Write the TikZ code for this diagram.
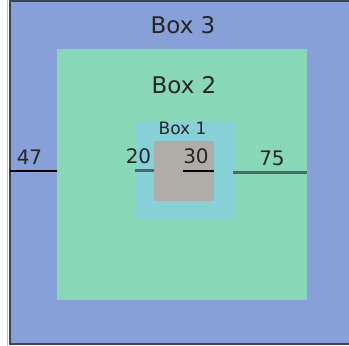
\documentclass[tikz,border=0pt]{standalone}
\usepackage{fontspec}
\setmainfont{DejaVu Sans}
\definecolor{bxblue}{HTML}{88A0D8}
\definecolor{bxgreen}{HTML}{88D8B8}
\definecolor{bxcyan}{HTML}{88D0D8}
\definecolor{bxgray}{HTML}{B0ACA8}
\definecolor{bxedge}{HTML}{3E4656}
\definecolor{bxslate}{HTML}{4A6866}
\usepackage{tikz}
\usetikzlibrary{positioning, calc}

\begin{document}
\begin{tikzpicture}[x=1pt, y=-1pt,
  area/.style={rectangle, inner sep=0pt, outer sep=0pt, anchor=north west},
  title/.style={inner sep=0pt, anchor=base, text=black!85},
  numlbl/.style={inner sep=0pt, anchor=base, text=black!85, font=\fontsize{20}{24}\selectfont},
  thinmark/.style={draw=black, line width=1.4pt},
  thickmark/.style={draw=bxslate, line width=3pt},
]
  \useasboundingbox (0,0) rectangle (349,346);
  \clip (0,0) rectangle (349,346);
  % nested boxes
  \draw[black!25, line width=1pt] (7.5,0) -- (7.5,346);
  \node[area, fill=bxblue, draw=bxedge, line width=2pt,
        minimum width=350pt, minimum height=343pt] (box3) at (10,1) {};
  \node[area, fill=bxgreen, minimum width=250pt, minimum height=251pt] (box2) at (57,49) {};
  \node[area, fill=bxcyan, minimum width=100pt, minimum height=98pt] (box1) at (135,122) {};
  \node[area, fill=bxgray, minimum width=60pt, minimum height=60pt] (core) at (154,141) {};
  % titles
  \node[title, font=\fontsize{23}{28}\selectfont] (t3) at (183,33) {Box 3};
  \node[title, font=\fontsize{23}{28}\selectfont] (t2) at (184,93) {Box 2};
  \node[title, font=\fontsize{17}{20}\selectfont] (t1) at (182.5,134) {Box 1};
  % margin marks
  \draw[thinmark] (box3.west |- 0,171) -- (box2.west |- 0,171);
  \draw[thickmark] (box1.west |- 0,170) -- (core.west |- 0,170);
  \draw[thinmark] (183,171) -- (core.east |- 0,171);
  \draw[thickmark] (233,172) -- (box2.east |- 0,172);
  \node[numlbl] (n47) at (29.5,164) {47};
  \node[numlbl] (n20) at (138.5,163) {20};
  \node[numlbl] (n30) at (196,163) {30};
  \node[numlbl] (n75) at (272,165) {75};
\end{tikzpicture}
\end{document}
